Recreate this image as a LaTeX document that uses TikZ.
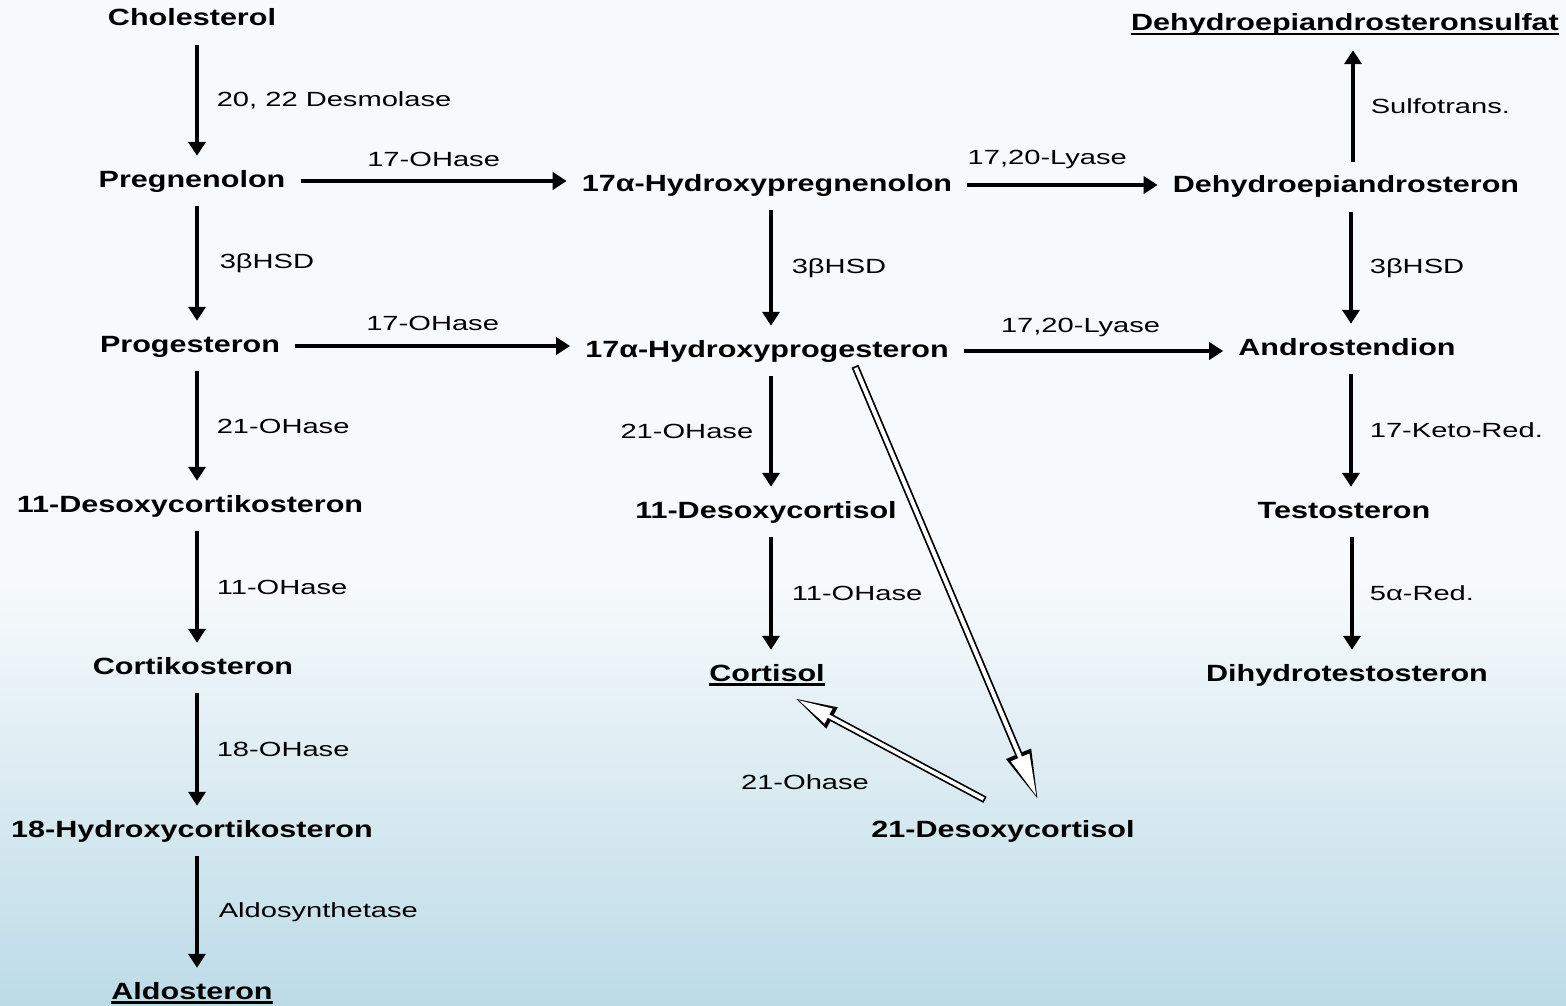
\documentclass[tikz,border=0pt]{standalone}
\usepackage{fontspec}
\usepackage{tikz}
\usetikzlibrary{arrows.meta,positioning,calc}
\newfontfamily\namefont[FakeStretch=1.3]{Liberation Sans}
\newfontfamily\enzfont[FakeStretch=1.42]{Liberation Sans}
\definecolor{cBgTop}{RGB}{247,250,252}
\definecolor{cBgMid}{RGB}{226,238,243}
\definecolor{cBgBot}{RGB}{188,219,231}
\tikzset{
  stoff/.style={font=\namefont\bfseries\fontsize{23.5}{28}\selectfont,
                text height=17pt, text depth=5pt, inner xsep=15pt, inner ysep=14pt},
  enz/.style={font=\enzfont\fontsize{20.5}{24}\selectfont, inner sep=0pt},
  arr/.style={-{Triangle[length=14pt,width=17pt]}, line width=3.6pt},
  hollow/.style={draw=white, line width=4pt, shorten <=1.8pt, shorten >=4pt,
                 -{Triangle[length=42pt,width=19pt]},
                 preaction={draw=black, line width=7.5pt, shorten <=0pt, shorten >=0pt,
                            -{Triangle[length=50pt,width=25pt]}}},
  hollows/.style={draw=white, line width=3.6pt, shorten <=1.8pt, shorten >=4pt,
                 -{Triangle[length=34pt,width=16pt]},
                 preaction={draw=black, line width=7pt, shorten <=0pt, shorten >=0pt,
                            -{Triangle[length=42pt,width=22pt]}}},
}
\newcommand{\ulname}[1]{\setbox0\hbox{#1}\rlap{\rule[-4.5pt]{\wd0}{2.6pt}}\box0}

\begin{document}
\begin{tikzpicture}[x=1pt, y=-1pt]
  \useasboundingbox (0,0) rectangle (1566,1006);
  \fill[cBgTop] (0,0) rectangle (1566,580);
  \shade[top color=cBgTop, middle color=cBgMid, bottom color=cBgBot] (0,579) rectangle (1566,1006);

  % left column
  \node[stoff] (chol) at (192,20) {Cholesterol};
  \node[stoff] (preg) at (192,181) {Pregnenolon};
  \node[stoff] (prog) at (190,346) {Progesteron};
  \node[stoff] (doc) at (190,506) {11-Desoxycortikosteron};
  \node[stoff] (cortik) at (193,668) {Cortikosteron};
  \node[stoff] (hoc) at (192,831) {18-Hydroxycortikosteron};
  \node[stoff] (aldo) at (192,993) {\ulname{Aldosteron}};

  % middle column
  \node[stoff] (ohpreg) at (767,185) {17α-Hydroxypregnenolon};
  \node[stoff] (ohprog) at (767,351) {17α-Hydroxyprogesteron};
  \node[stoff] (dcortisol) at (766,512) {11-Desoxycortisol};
  \node[stoff] (cortisol) at (767,675) {\ulname{Cortisol}};
  \node[stoff] (ddcortisol) at (1003,831) {21-Desoxycortisol};

  % right column
  \node[stoff] (dheas) at (1345,25) {\ulname{Dehydroepiandrosteronsulfat}};
  \node[stoff] (dhea) at (1346,187) {Dehydroepiandrosteron};
  \node[stoff] (andro) at (1347,349) {Androstendion};
  \node[stoff] (testo) at (1344,512) {Testosteron};
  \node[stoff] (dht) at (1347,675) {Dihydrotestosteron};

  \draw[arr] ([xshift=5pt]chol.south) -- ([xshift=5pt]chol.south |- preg.north)
    node[enz, midway, right=18pt] (e1) {20, 22 Desmolase};
  \draw[arr] ([xshift=5pt]preg.south) -- ([xshift=5pt]preg.south |- prog.north)
    node[enz, midway, right=21pt] (e2) {3βHSD};
  \draw[arr] ([xshift=7pt]prog.south) -- ([xshift=7pt]prog.south |- doc.north)
    node[enz, midway, right=18pt] (e3) {21-OHase};
  \draw[arr] ([xshift=7pt]doc.south) -- ([xshift=7pt]doc.south |- cortik.north)
    node[enz, midway, right=18pt] (e4) {11-OHase};
  \draw[arr] ([xshift=4pt]cortik.south) -- ([xshift=4pt]cortik.south |- hoc.north)
    node[enz, midway, right=18pt] (e5) {18-OHase};
  \draw[arr] ([xshift=5pt]hoc.south) -- ([xshift=5pt]hoc.south |- aldo.north)
    node[enz, midway, right=20pt] (e6) {Aldosynthetase};

  \draw[arr] ([xshift=4pt]ohpreg.south) -- ([xshift=4pt]ohpreg.south |- ohprog.north)
    node[enz, midway, right=19pt] (e7) {3βHSD};
  \draw[arr] ([xshift=4pt]ohprog.south) -- ([xshift=4pt]ohprog.south |- dcortisol.north)
    node[enz, midway, left=16pt] (e8) {21-OHase};
  \draw[arr] ([xshift=5pt]dcortisol.south) -- ([xshift=5pt]dcortisol.south |- cortisol.north)
    node[enz, midway, right=19pt] (e9) {11-OHase};

  \draw[arr] ([xshift=7pt]dhea.north) -- ([xshift=7pt]dhea.north |- dheas.south)
    node[enz, midway, right=16pt] (e10) {Sulfotrans.};
  \draw[arr] ([xshift=5pt]dhea.south) -- ([xshift=5pt]dhea.south |- andro.north)
    node[enz, midway, right=17pt] (e11) {3βHSD};
  \draw[arr] ([xshift=4pt]andro.south) -- ([xshift=4pt]andro.south |- testo.north)
    node[enz, midway, right=17pt] (e12) {17-Keto-Red.};
  \draw[arr] ([xshift=8pt]testo.south) -- ([xshift=8pt]testo.south |- dht.north)
    node[enz, midway, right=16pt] (e13) {5α-Red.};

  \draw[arr] (preg.east) -- (preg.east -| ohpreg.west)
    node[enz, midway, above=13pt] (e14) {17-OHase};
  \draw[arr] (prog.east) -- (prog.east -| ohprog.west)
    node[enz, midway, above=14pt] (e15) {17-OHase};
  \draw[arr] (ohpreg.east) -- (ohpreg.east -| dhea.west)
    node[enz, pos=0.42, above=14pt] (e16) {17,20-Lyase};
  \draw[arr] (ohprog.east) -- (ohprog.east -| andro.west)
    node[enz, pos=0.45, above=12pt] (e17) {17,20-Lyase};

  \draw[hollow] ([xshift=88pt,yshift=10pt]ohprog.south) -- ([xshift=35pt,yshift=6pt]ddcortisol.north);
  \draw[hollows] ([xshift=-18pt,yshift=6pt]ddcortisol.north) -- ([xshift=28pt,yshift=2pt]cortisol.south);
  \node[enz] (e18) at (805,782) {21-Ohase};
\end{tikzpicture}
\end{document}
